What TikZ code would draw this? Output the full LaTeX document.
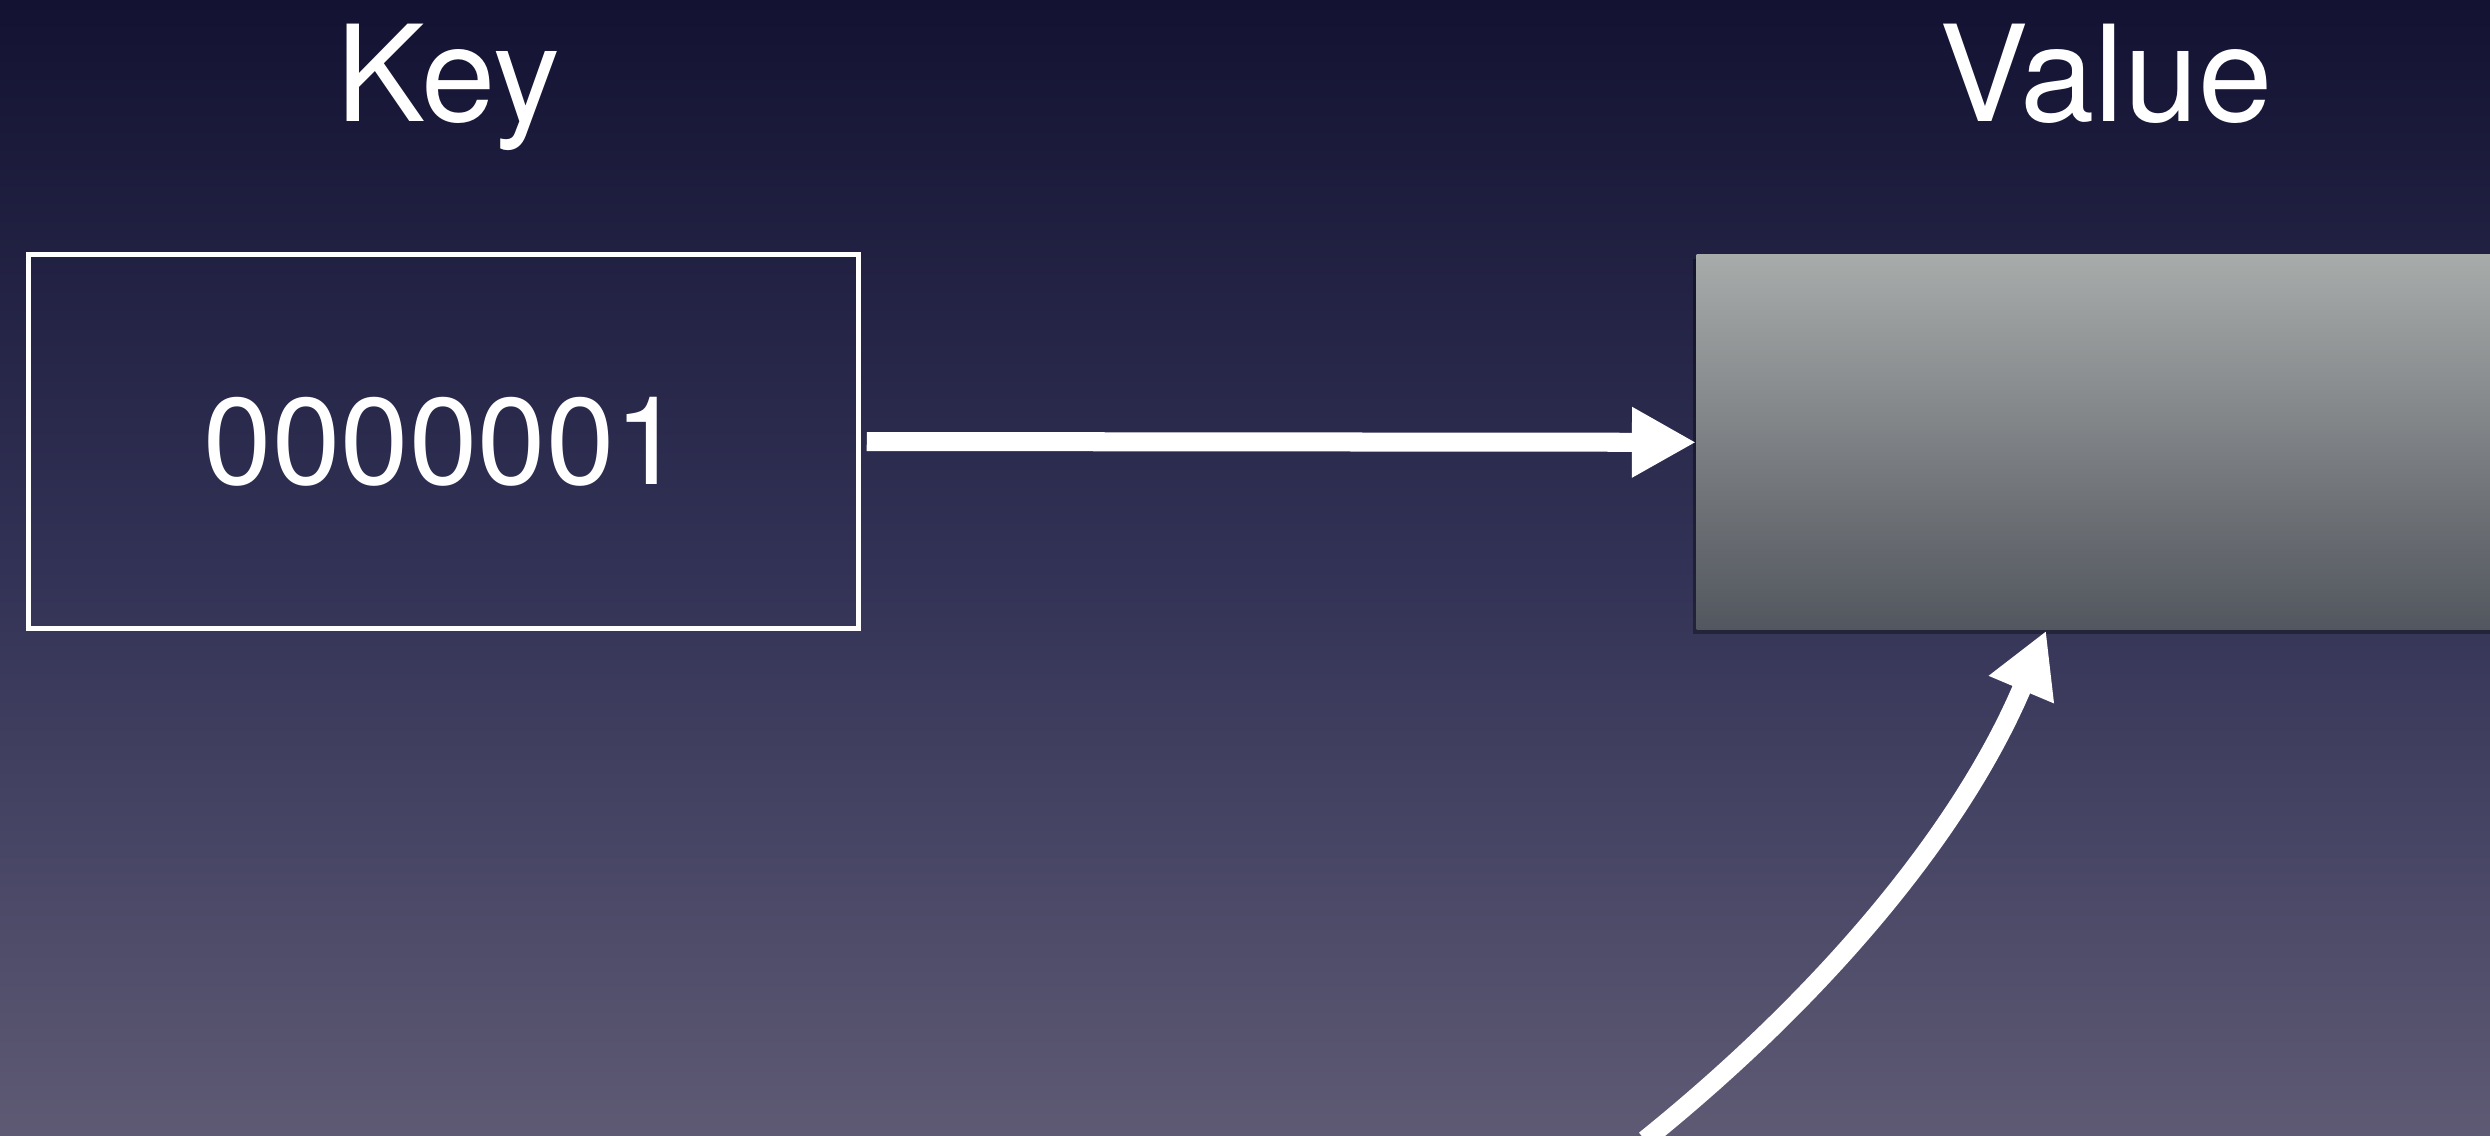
\documentclass[tikz,border=0pt]{standalone}
\usepackage{fontspec}
\setmainfont{TeX Gyre Heros}
\usetikzlibrary{arrows.meta,shadows}
\definecolor{bgtop}{RGB}{19,18,50}
\definecolor{bgmid}{RGB}{50,50,86}
\definecolor{bgbot}{RGB}{94,90,116}
\definecolor{valtop}{RGB}{167,171,170}
\definecolor{valbot}{RGB}{82,86,94}
\begin{document}
\begin{tikzpicture}[x=0.01cm,y=-0.01cm,
  titletext/.style={text=white, font=\fontsize{38}{44}\selectfont, anchor=base, inner sep=0},
  keybox/.style={draw=white, line width=0.05cm, minimum width=8.29cm, minimum height=3.74cm, inner sep=0, text=white, font=\fontsize{35}{40}\selectfont},
  valbox/.style={top color=valtop, bottom color=valbot, minimum width=10cm, minimum height=3.75cm, anchor=north west, inner sep=0,
    drop shadow={shadow xshift=-0.04cm, shadow yshift=-0.04cm, opacity=0.35, fill=black}},
  conn/.style={draw=white, line width=0.19cm, -{Triangle[length=0.64cm,width=0.66cm]}}]
\useasboundingbox (0,0) rectangle (2490,1135);
\clip (0,0) rectangle (2490,1135);
\shade[top color=bgtop, bottom color=bgbot, middle color=bgmid] (0,0) rectangle (2490,1135);

\node[titletext] (keytitle) at (448,121) {Key};
\node[titletext] (valtitle) at (2106,121) {Value};

\node[keybox] (key) at (443.5,441.5) {0000001};
\node[valbox] (val) at (1696,254) {};

\draw[conn, shorten <=0.06cm] (key.east) -- (val.west);

\coordinate (cstart) at (1645,1140);
\draw[conn] (cstart) .. controls (1826,994) and (1962,830) .. ([xshift=3.5cm]val.south west);
\end{tikzpicture}
\end{document}
